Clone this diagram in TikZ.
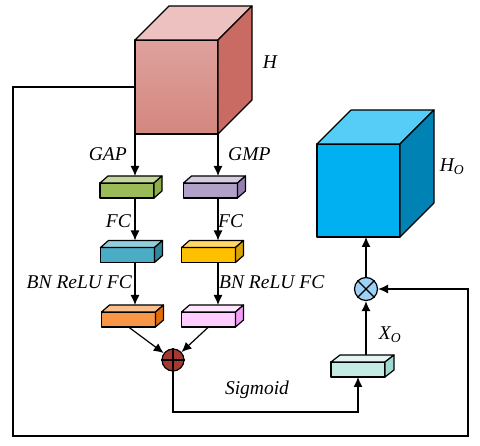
\documentclass[tikz,border=0pt]{standalone}
\usepackage{fontspec}
\setmainfont{Liberation Serif}
\usetikzlibrary{calc,arrows.meta}
\definecolor{rF}{HTML}{D9938F}\definecolor{rFa}{HTML}{DFA19D}\definecolor{rFb}{HTML}{D3877F}\definecolor{rT}{HTML}{ECC1BF}\definecolor{rR}{HTML}{C96A63}
\definecolor{bF}{HTML}{00B0F0}\definecolor{bT}{HTML}{56CDF6}\definecolor{bR}{HTML}{0083B4}
\definecolor{gF}{HTML}{9BBB59}\definecolor{gT}{HTML}{C3D69B}\definecolor{gR}{HTML}{8DAE4A}
\definecolor{pF}{HTML}{B1A0C7}\definecolor{pT}{HTML}{D5CCE2}\definecolor{pR}{HTML}{9380B0}
\definecolor{cF}{HTML}{4BACC6}\definecolor{cT}{HTML}{92CDDC}\definecolor{cR}{HTML}{31859C}
\definecolor{yF}{HTML}{FFC000}\definecolor{yT}{HTML}{FFD966}\definecolor{yR}{HTML}{D9A300}
\definecolor{oF}{HTML}{F79646}\definecolor{oT}{HTML}{FABF8F}\definecolor{oR}{HTML}{E36C09}
\definecolor{kF}{HTML}{FFCCFF}\definecolor{kT}{HTML}{FFE5FF}\definecolor{kR}{HTML}{F59AF5}
\definecolor{tF}{HTML}{C4EAE4}\definecolor{tT}{HTML}{E2F5F2}\definecolor{tR}{HTML}{9FD9D0}
\definecolor{plusF}{HTML}{A5382F}\definecolor{mulF}{HTML}{9DD1F5}
\tikzset{
  face/.style={draw=black,line width=1.2pt,line join=round},
  front/.style={face,rectangle,inner sep=0pt,outer sep=0pt},
  cubefront/.style={front,minimum width=83pt,minimum height=93pt},
  blockfront/.style={front,minimum width=54pt,minimum height=15pt},
  arr/.style={draw=black,line width=1.2pt,-{Latex[length=10pt,width=9pt]}},
  ln/.style={draw=black,line width=1.2pt},
  lbl/.style={font=\fontsize{19.5}{22}\selectfont\itshape,inner sep=1pt},
  opnode/.style={circle,draw=black,line width=1.2pt,minimum size=22pt,inner sep=0pt},
}
% draw top and right faces of a box node #1, depth (#2,#3), colours #4 top, #5 right
\newcommand{\boxfaces}[5]{%
  \draw[face,fill=#4] (#1.north west) -- ++(#2,#3) -- ($(#1.north east)+(#2,#3)$) -- (#1.north east) -- cycle;
  \draw[face,fill=#5] (#1.north east) -- ($(#1.north east)+(#2,#3)$) -- ($(#1.south east)+(#2,#3)$) -- (#1.south east) -- cycle;
}
\begin{document}
\begin{tikzpicture}[x=1pt,y=-1pt]
\useasboundingbox (0,0) rectangle (480,446);
% cubes
\node[cubefront,draw=black,top color=rFa,bottom color=rFb,minimum height=94pt] (H) at (176.5,87) {};
\boxfaces{H}{34}{-34}{rT}{rR}
\node[cubefront,fill=bF] (HO) at (358.5,190.5) {};
\boxfaces{HO}{34}{-34}{bT}{bR}
% blocks
\node[blockfront,fill=gF] (gap) at (127,190.5) {};
\boxfaces{gap}{8}{-7}{gT}{gR}
\node[blockfront,fill=pF] (gmp) at (210.5,190.5) {};
\boxfaces{gmp}{8}{-7}{pT}{pR}
\node[blockfront,fill=cF] (fcA) at (127.5,255) {};
\boxfaces{fcA}{8}{-7}{cT}{cR}
\node[blockfront,fill=yF] (fcB) at (208.5,255) {};
\boxfaces{fcB}{8}{-7}{yT}{yR}
\node[blockfront,fill=oF] (outA) at (128.5,319.5) {};
\boxfaces{outA}{8}{-7}{oT}{oR}
\node[blockfront,fill=kF] (outB) at (208.5,319.5) {};
\boxfaces{outB}{8}{-7}{kT}{kR}
\node[blockfront,fill=tF] (sig) at (358,369.5) {};
\boxfaces{sig}{9}{-7}{tT}{tR}
% operators
\node[opnode,fill=plusF,minimum size=22pt] (plus) at (173,360) {};
\draw[ln] (plus.north) -- (plus.south) (plus.west) -- (plus.east);
\node[opnode,fill=mulF,minimum size=23pt] (mul) at (366,289) {};
\draw[ln] (mul.north west) -- (mul.south east) (mul.north east) -- (mul.south west);
% helper coordinates
\coordinate (lowy) at (0,412);
\coordinate (fbL) at (13,436);
\coordinate (fbR) at (468,436);
% connectors
\draw[arr] (H.south west) -- ($(H.south west |- gap.north)+(0,-7)$);
\draw[arr] (H.south east) -- ($(H.south east |- gmp.north)+(0,-7)$);
\draw[arr] (H.south west |- gap.south) -- ($(H.south west |- fcA.north)+(0,-7)$);
\draw[arr] (H.south east |- gmp.south) -- ($(H.south east |- fcB.north)+(0,-7)$);
\draw[arr] (H.south west |- fcA.south) -- ($(H.south west |- outA.north)+(0,-7)$);
\draw[arr] (H.south east |- fcB.south) -- ($(H.south east |- outB.north)+(0,-7)$);
\draw[arr] (outA.south) -- (plus);
\draw[arr] (outB.south) -- (plus);
\draw[arr] (plus.south) -- (plus.south |- lowy) -| (sig.south);
\draw[arr] ($(mul |- sig.north)+(0,-7)$) -- (mul);
\draw[arr] (mul) -- (mul |- HO.south);
\draw[arr] (H.west) -| (fbL) -- (fbR) |- (mul.east);
% labels
\node[lbl] (lH) at (270,62) {H};
\node[lbl] (lHO) at (452,167) {H\textsubscript{O}};
\node[lbl,anchor=east] (lgap) at (128,154) {GAP};
\node[lbl,anchor=west] (lgmp) at (227,154) {GMP};
\node[lbl,anchor=east] (lfcA) at (132,221) {FC};
\node[lbl,anchor=west] (lfcB) at (217,221) {FC};
\node[lbl,anchor=east] (lbnA) at (133,282) {BN ReLU FC};
\node[lbl,anchor=west] (lbnB) at (218,282) {BN ReLU FC};
\node[lbl] (lsig) at (257,390) {Sigmoid};
\node[lbl] (lxo) at (390,335) {X\textsubscript{O}};
\end{tikzpicture}
\end{document}
